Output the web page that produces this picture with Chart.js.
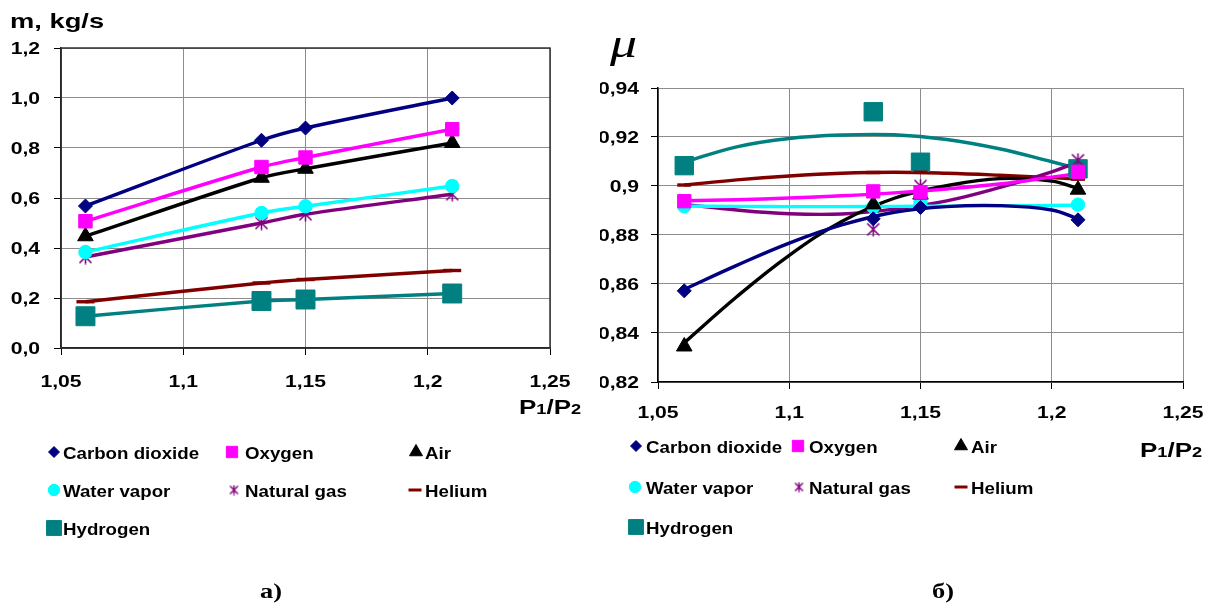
<!DOCTYPE html>
<html>
<head>
<meta charset="utf-8">
<title>Mass flow and discharge coefficient vs P1/P2</title>
<script src="https://cdn.jsdelivr.net/npm/chart.js"></script>
<style>
    body {
        margin: 0;
        background: #fff;
        font-family: "Liberation Sans", Arial, sans-serif;
    }
    #page {
        position: relative;
        width: 1205px;
        height: 606px;
        overflow: hidden;
    }
    canvas {
        position: absolute;
        top: 0;
    }
    #flowChart { left: 0; }
    #muChart { left: 600px; }
    .lbl {
        position: absolute;
        font-weight: bold;
        color: #000;
        white-space: nowrap;
        line-height: 1;
        transform-origin: 0 0;
    }
    .ratio { font-size: 20px; transform: scaleX(1.3); }
    .ratio small { font-size: 70%; }
    .mu {
        font-family: "Liberation Serif", serif;
        font-style: italic;
        font-weight: normal;
        font-size: 40px;
        transform: scaleX(1.35);
    }
    .cap {
        font-family: "Liberation Serif", serif;
        font-size: 22px;
        transform: scaleX(1.2);
    }
</style>
</head>
<body>
<div id="page">
    <canvas id="flowChart" width="600" height="606"></canvas>
    <canvas id="muChart" width="605" height="606"></canvas>

    <div class="lbl" style="left:10px; top:10px; font-size:21px; transform:scaleX(1.3)">m, kg/s</div>
    <div class="lbl ratio" style="left:519px; top:397px">P<small>1</small>/P<small>2</small></div>
    <div class="lbl ratio" style="left:1140px; top:440px">P<small>1</small>/P<small>2</small></div>
    <div class="lbl mu" style="left:610px; top:24px">μ</div>
    <div class="lbl cap" style="left:260px; top:580px">а)</div>
    <div class="lbl cap" style="left:932px; top:580px">б)</div>
</div>

<script>
    // pressure ratio P1/P2 of the measured points
    var pressureRatio = [1.06, 1.132, 1.15, 1.21];
    var gasNames = ['Carbon dioxide', 'Oxygen', 'Air', 'Water vapor', 'Natural gas', 'Helium', 'Hydrogen'];

    // а) mass flow m, kg/s
    var flowCarbonDioxide = [0.568, 0.831, 0.880, 1.000];
    var flowOxygen        = [0.507, 0.724, 0.762, 0.875];
    var flowAir           = [0.447, 0.681, 0.717, 0.820];
    var flowWaterVapor    = [0.384, 0.540, 0.567, 0.648];
    var flowNaturalGas    = [0.364, 0.500, 0.535, 0.615];
    var flowHelium        = [0.185, 0.260, 0.274, 0.310];
    var flowHydrogen      = [0.127, 0.188, 0.194, 0.218];

    // б) discharge coefficient mu, measured points
    var muCarbonDioxide = [0.8572, 0.8866, 0.8912, 0.8862];
    var muOxygen        = [0.8938, 0.8978, 0.8975, 0.9058];
    var muAir           = [0.8345, 0.8925, 0.8965, 0.8985];
    var muWaterVapor    = [0.8917, 0.8915, 0.8935, 0.8924];
    var muNaturalGas    = [0.8935, 0.8823, 0.9000, 0.9105];
    var muHelium        = [0.9004, 0.9055, 0.9056, 0.9028];
    var muHydrogen      = [0.9083, 0.9303, 0.9097, 0.9070];

    // б) trend curves
    var trendRatio = [1.06, 1.08, 1.10, 1.12, 1.14, 1.16, 1.18, 1.20, 1.21];
    var trendCarbonDioxide = [0.8578, 0.8676, 0.8767, 0.8841, 0.8893, 0.8916, 0.8920, 0.8902, 0.8866];
    var trendOxygen        = [0.8940, 0.8944, 0.8951, 0.8960, 0.8972, 0.8988, 0.9008, 0.9036, 0.9051];
    var trendAir           = [0.8360, 0.8548, 0.8717, 0.8855, 0.8950, 0.9001, 0.9030, 0.9020, 0.8990];
    var trendWaterVapor    = [0.8918, 0.8917, 0.8916, 0.8916, 0.8917, 0.8918, 0.8919, 0.8921, 0.8922];
    var trendNaturalGas    = [0.8925, 0.8902, 0.8887, 0.8886, 0.8906, 0.8939, 0.8993, 0.9058, 0.9099];
    var trendHelium        = [0.9004, 0.9025, 0.9041, 0.9052, 0.9056, 0.9052, 0.9044, 0.9034, 0.9028];
    var trendHydrogen      = [0.9097, 0.9160, 0.9194, 0.9208, 0.9209, 0.9190, 0.9152, 0.9099, 0.9072];

    // axis ticks
    var ratioTicks = [1.05, 1.1, 1.15, 1.2, 1.25];
    var flowTicks = [0, 0.2, 0.4, 0.6, 0.8, 1.0, 1.2];
    var muTicks = [0.82, 0.84, 0.86, 0.88, 0.9, 0.92, 0.94];

    // look
    var gasColors = ['#000080', '#ff00ff', '#000000', '#00ffff', '#800080', '#800000', '#008080'];

    function asterisk(size, color, lw) {
        var c = document.createElement('canvas');
        c.width = size;
        c.height = size;
        var g = c.getContext('2d');
        var m = size / 2, d = size / 2 - 1.5;
        g.strokeStyle = color;
        g.lineWidth = lw;
        g.beginPath();
        g.moveTo(m - d, m - d); g.lineTo(m + d, m + d);
        g.moveTo(m + d, m - d); g.lineTo(m - d, m + d);
        g.moveTo(m, 0.5); g.lineTo(m, size - 0.5);
        g.stroke();
        return c;
    }

    var starBig = asterisk(15, '#800080', 1.6);
    var starSmall = asterisk(11, '#800080', 1.4);
    var gasMarkers = ['rectRot', 'rect', 'triangle', 'circle', starBig, 'line', 'rect'];
    var legendMarkers = ['rectRot', 'rect', 'triangle', 'circle', starSmall, 'line', 'rect'];
    var legendRadius = [5.5, 8, 7.5, 5.7, 6, 6.5, 10.5];

    function fixedTicks(values) {
        return function (scale) {
            scale.ticks = values.map(function (v) { return { value: v }; });
        };
    }

    function commaLabel(v) {
        return String(+v.toFixed(2)).replace('.', ',');
    }

    function oneDecimal(v) {
        return v.toFixed(1).replace('.', ',');
    }

    function points(xs, ys) {
        return xs.map(function (x, k) { return { x: x, y: ys[k] }; });
    }

    // the reference text is drawn wide, so labels are stretched horizontally
    function wideText(ctx, text, x, y, align, sx) {
        ctx.save();
        ctx.translate(x, y);
        ctx.scale(sx, 1);
        ctx.textAlign = align;
        ctx.fillText(text, 0, 0);
        ctx.restore();
    }

    function ratioAxis() {
        return {
            type: 'linear',
            min: 1.05,
            max: 1.25,
            afterBuildTicks: fixedTicks(ratioTicks),
            afterFit: function (s) { s.height = 50; s.paddingLeft = 0; s.paddingRight = 0; },
            ticks: { display: false },
            grid: { color: '#8c8c8c', tickColor: '#000', tickLength: 7, lineWidth: 1 },
            border: { color: '#000', width: 1.5 }
        };
    }

    function valueAxis(ticks, min, max, width) {
        return {
            type: 'linear',
            min: min,
            max: max,
            afterBuildTicks: fixedTicks(ticks),
            afterFit: function (s) { s.width = width; s.paddingTop = 0; s.paddingBottom = 0; },
            ticks: { display: false },
            grid: { color: '#8c8c8c', tickColor: '#000', tickLength: 7, lineWidth: 1 },
            border: { color: '#000', width: 1.5 }
        };
    }

    var labelPlugin = {
        id: 'axisLabels',
        afterDraw: function (chart, args, opts) {
            var ctx = chart.ctx, a = chart.chartArea;
            var xs = chart.scales.x, ys = chart.scales.y;
            ctx.save();
            ctx.font = 'bold 16px "Liberation Sans", Arial, sans-serif';
            ctx.fillStyle = '#000';
            ctx.textBaseline = 'alphabetic';
            xs.ticks.forEach(function (t) {
                wideText(ctx, commaLabel(t.value), xs.getPixelForValue(t.value), a.bottom + opts.xGap, 'center', 1.32);
            });
            ys.ticks.forEach(function (t) {
                var txt = opts.oneDecimal ? oneDecimal(t.value) : commaLabel(t.value);
                wideText(ctx, txt, a.left - opts.yGap, ys.getPixelForValue(t.value) + 6, 'right', 1.32);
            });
            ctx.restore();
        }
    };

    var framePlugin = {
        id: 'frame',
        beforeDatasetsDraw: function (chart, args, opts) {
            if (!opts.color) return;
            var a = chart.chartArea, ctx = chart.ctx;
            ctx.save();
            ctx.strokeStyle = opts.color;
            ctx.lineWidth = opts.width || 1;
            ctx.strokeRect(a.left, a.top, a.right - a.left, a.bottom - a.top);
            ctx.restore();
        }
    };

    var legendPlugin = {
        id: 'gasLegend',
        afterDraw: function (chart, args, opts) {
            if (!opts.slots) return;
            var ctx = chart.ctx;
            ctx.save();
            ctx.font = 'bold 17px "Liberation Sans", Arial, sans-serif';
            ctx.textBaseline = 'alphabetic';
            opts.slots.forEach(function (slot, i) {
                var isDash = legendMarkers[i] === 'line';
                ctx.fillStyle = gasColors[i];
                ctx.strokeStyle = gasColors[i];
                ctx.lineWidth = isDash ? 3 : 1;
                Chart.helpers.drawPoint(ctx, {
                    pointStyle: legendMarkers[i],
                    radius: legendRadius[i],
                    borderWidth: ctx.lineWidth,
                    rotation: 0
                }, slot[0], slot[1]);
                ctx.fillStyle = '#000';
                wideText(ctx, gasNames[i], slot[2], slot[1] + 6.5, 'left', 1.1);
            });
            ctx.restore();
        }
    };

    function markerSet(i, xs, ys, radius, withLine) {
        var isDash = gasMarkers[i] === 'line';
        return {
            label: gasNames[i],
            data: points(xs, ys),
            showLine: withLine,
            tension: 0.3,
            borderColor: gasColors[i],
            backgroundColor: gasColors[i],
            borderWidth: 3.4,
            pointStyle: gasMarkers[i],
            pointRadius: radius,
            pointBorderWidth: isDash ? 3.4 : 1,
            pointBorderColor: gasColors[i],
            pointBackgroundColor: gasColors[i]
        };
    }

    function trendSet(i, ys) {
        return {
            label: gasNames[i] + ' trend',
            data: points(trendRatio, ys),
            showLine: true,
            tension: 0.4,
            borderColor: gasColors[i],
            borderWidth: 3.4,
            pointRadius: 0
        };
    }

    // chart а)
    var flowSeries = [flowCarbonDioxide, flowOxygen, flowAir, flowWaterVapor, flowNaturalGas, flowHelium, flowHydrogen];
    var flowRadius = [7, 9.5, 9, 6.7, 7, 9, 13.4];

    new Chart(document.getElementById('flowChart'), {
        type: 'scatter',
        data: {
            datasets: flowSeries.map(function (ys, i) {
                return markerSet(i, pressureRatio, ys, flowRadius[i], true);
            })
        },
        options: {
            responsive: false,
            animation: false,
            events: [],
            layout: { padding: { left: 0, top: 48, right: 50, bottom: 208 } },
            scales: {
                x: ratioAxis(),
                y: valueAxis(flowTicks, 0, 1.2, 61)
            },
            plugins: {
                legend: { display: false },
                tooltip: { enabled: false },
                frame: { color: '#333', width: 1.5 },
                axisLabels: { xGap: 39, yGap: 21, oneDecimal: true },
                gasLegend: {
                    slots: [
                        [54, 452, 63], [232, 452, 245], [416, 452, 425],
                        [54, 490, 63], [234, 490, 245], [415, 490, 425],
                        [54, 528, 63]
                    ]
                }
            }
        },
        plugins: [framePlugin, labelPlugin, legendPlugin]
    });

    // chart б)
    var muSeries = [muCarbonDioxide, muOxygen, muAir, muWaterVapor, muNaturalGas, muHelium, muHydrogen];
    var muTrends = [trendCarbonDioxide, trendOxygen, trendAir, trendWaterVapor, trendNaturalGas, trendHelium, trendHydrogen];
    var muRadius = [7, 9.4, 9, 6.7, 7, 7, 13];

    var muDatasets = muSeries.map(function (ys, i) {
        return markerSet(i, pressureRatio, ys, muRadius[i], false);
    }).concat(muTrends.map(function (ys, i) {
        return trendSet(i, ys);
    }));

    new Chart(document.getElementById('muChart'), {
        type: 'scatter',
        data: { datasets: muDatasets },
        options: {
            responsive: false,
            animation: false,
            events: [],
            layout: { padding: { left: 0, top: 88, right: 22, bottom: 174 } },
            scales: {
                x: ratioAxis(),
                y: valueAxis(muTicks, 0.82, 0.94, 58)
            },
            plugins: {
                legend: { display: false },
                tooltip: { enabled: false },
                axisLabels: { xGap: 36, yGap: 19, oneDecimal: false },
                gasLegend: {
                    slots: [
                        [36, 446, 46], [198, 446, 209], [361, 446, 371],
                        [35, 487, 46], [199, 487, 209], [361, 487, 371],
                        [36, 527, 46]
                    ]
                }
            }
        },
        plugins: [framePlugin, labelPlugin, legendPlugin]
    });
</script>
</body>
</html>
